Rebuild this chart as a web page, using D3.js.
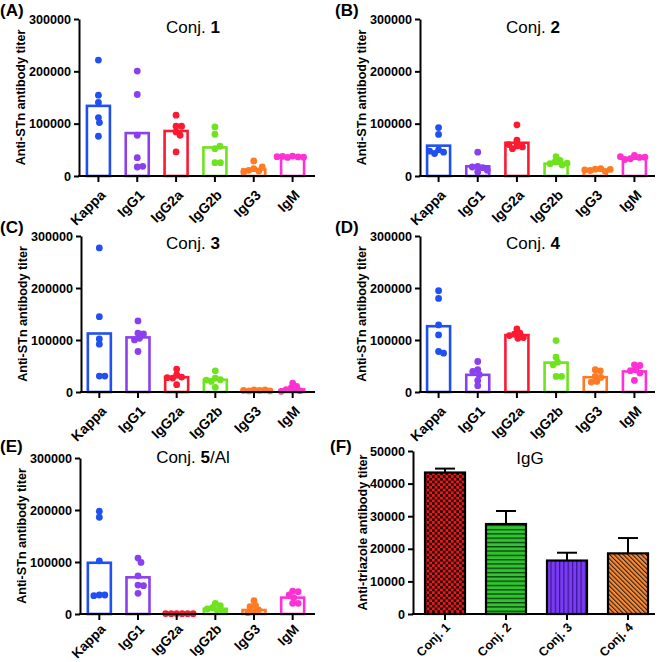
<!DOCTYPE html>
<html><head><meta charset="utf-8">
<script src="https://cdn.jsdelivr.net/npm/d3@7"></script>
<style>body{margin:0;background:#fff} svg{display:block} text{font-family:"Liberation Sans",Arial,Helvetica,sans-serif}</style>
</head><body><svg id="c" width="661" height="662"></svg>
<script>
// ---------- data ----------
const categories = ["Kappa","IgG1","IgG2a","IgG2b","IgG3","IgM"];
const stnTicks = [0,100000,200000,300000];

const conj1Bars = [134000, 82000, 86000, 54500, 12500, 36500];
const conj1Points = [
  [221500,154500,140400,111700,102100,76000],
  [200400,155700,77900,35100,17200,18500],
  [116200,95100,95100,84300,77900,46000],
  [93800,79800,52300,56800,25500,25500],
  [28700,14000,9600,10900,7700,17200],
  [38000,36500,35500,37500,36000,37000]];

const conj2Bars = [58000, 18500, 63500, 23500, 11000, 33000];
const conj2Points = [
  [92500,79500,50000,45500,43000,47500],
  [45500,18500,16000,17200,7700,11000],
  [97700,68300,57400,55500,52300,60000],
  [37000,30000,26800,23600,21000,24500],
  [13000,14000,10500,9000,11500,12500],
  [39500,35500,33000,31500,36000,37000]];

const conj3Bars = [112500, 105000, 28500, 23500, 3000, 5000];
const conj3Points = [
  [277000,144900,102100,91900,30600,30600],
  [136600,113000,111700,103400,100200,77900],
  [44000,33200,28700,26800,27500,14000],
  [40800,26800,23600,20400,8900,23000],
  [4000,3000,2000,3000,4000,2000],
  [17200,10900,7700,4500,2600,1300]];

const conj4Bars = [126500, 33000, 109500, 56500, 28500, 39500];
const conj4Points = [
  [194700,180000,128900,109800,77900,74700],
  [58700,42800,33200,22300,12100,39600],
  [121300,113000,111100,108500,103400,104700],
  [98900,67000,57400,52300,30000,30000],
  [42800,40800,30000,28100,20400,19100],
  [52300,51000,42800,41000,36400,22300]];

const conj5Bars = [98500, 70500, 700, 10000, 7700, 31500];
const conj5Points = [
  [197600,186100,102300,36500,36500,35200],
  [107500,99100,73500,55600,54400,39700],
  [800,700,600,700,800,600],
  [20500,16000,12200,9600,7700,5800],
  [25600,16000,14100,7700,4500,2600],
  [44100,42900,36500,31300,20500,20500]];

const igGCategories = ["Conj. 1","Conj. 2","Conj. 3","Conj. 4"];
const igGMeans = [43400, 27600, 16400, 18600];
const igGErrTops = [44600, 31600, 18800, 23300];
const igGTicks = [0,10000,20000,30000,40000,50000];

// ---------- style ----------
const catColors = ["#2150f0","#8a40ef","#fc1a32","#6ee31e","#ff7a22","#ff30d4"];
const FONT_BOLD = 12.6;

const svg = d3.select("#c");
const defs = svg.append("defs");

function panelLabel(t, x, y) {
  svg.append("text").attr("x", x).attr("y", y).attr("font-size", 17).attr("font-weight", "bold").text(t);
}
function title(parts, x, y) {
  const t = svg.append("text").attr("x", x).attr("y", y).attr("text-anchor", "middle").attr("font-size", 17);
  parts.forEach(p => t.append("tspan").attr("font-weight", p[1] ? "bold" : "normal").text(p[0]));
}
function yTitle(txt, x, y) {
  svg.append("text").attr("transform", `translate(${x},${y}) rotate(-90)`)
    .attr("text-anchor", "middle").attr("dy", "0.35em")
    .attr("font-size", FONT_BOLD).attr("font-weight", "bold").text(txt);
}
function styleAxis(g) {
  g.selectAll("path,line").attr("stroke", "#000").attr("stroke-width", 2);
  g.selectAll("text").attr("font-size", FONT_BOLD).attr("font-weight", "bold")
    .attr("font-family", '"Liberation Sans",Arial,sans-serif').attr("fill", "#000");
}
function xAxis(x, names, axX, axEnd, yBase, lab) {
  svg.append("line").attr("x1", axX - 1).attr("x2", axEnd).attr("y1", yBase).attr("y2", yBase)
    .attr("stroke", "#000").attr("stroke-width", 2);
  names.forEach(n => {
    const cx = x(n) + x.bandwidth() / 2;
    svg.append("line").attr("x1", cx).attr("x2", cx).attr("y1", yBase).attr("y2", yBase + 6)
      .attr("stroke", "#000").attr("stroke-width", 2);
    svg.append("text").attr("transform", `translate(${cx + lab.dx},${yBase + lab.dy}) rotate(-45)`)
      .attr("text-anchor", "end").attr("font-size", lab.size).attr("font-weight", "bold").text(n);
  });
}

function swarm(vals, y, cx, r) {
  const placed = [];
  vals.forEach(v => {
    const py = y(v);
    let off = 0;
    for (let k = 0; k < 200; k++) {
      const o = k === 0 ? 0 : (k % 2 ? 1 : -1) * Math.ceil(k / 2) * 0.5;
      if (placed.every(p => Math.hypot(p.x - (cx + o), p.y - py) >= 1.5 * r)) { off = o; break; }
    }
    placed.push({ x: cx + off, y: py });
  });
  return placed;
}

function stnPanel(cfg) {
  const y = d3.scaleLinear().domain([0, 300000]).range([cfg.yBot, cfg.yTop]);
  const x = d3.scaleBand().domain(categories).range([cfg.bandStart, cfg.bandEnd]);
  const bw = 23;
  categories.forEach((c, i) => {
    const cx = x(c) + x.bandwidth() / 2;
    svg.append("rect").attr("x", cx - bw / 2).attr("y", y(cfg.bars[i]))
      .attr("width", bw).attr("height", y(0) - y(cfg.bars[i]))
      .attr("fill", "#fff").attr("stroke", catColors[i]).attr("stroke-width", 2.6);
  });
  categories.forEach((c, i) => {
    const cx = x(c) + x.bandwidth() / 2;
    const pts = swarm(cfg.points[i], y, cx, 3.4);
    svg.append("g").selectAll("circle").data(pts).join("circle")
      .attr("cx", d => d.x).attr("cy", d => d.y).attr("r", 3.4).attr("fill", catColors[i]);
  });
  xAxis(x, categories, cfg.axX, cfg.axEnd, cfg.yBot, cfg.lab || { dx: 8, dy: 20, size: 14 });
  const g = svg.append("g").attr("transform", `translate(${cfg.axX},0)`)
    .call(d3.axisLeft(y).tickValues(stnTicks).tickSize(5).tickSizeOuter(0).tickPadding(3).tickFormat(d3.format("d")));
  styleAxis(g);
  yTitle("Anti-STn antibody titer", cfg.axX - 58, (cfg.yTop + cfg.yBot) / 2);
  title(cfg.title, cfg.titleX, cfg.titleY);
  panelLabel(cfg.label, cfg.labelX, cfg.labelY);
}

const L = { axX: 79, axEnd: 315, bandStart: 79, bandEnd: 312, titleX: 193, labelX: 0 };
const R = { axX: 420, axEnd: 655, bandStart: 419, bandEnd: 654, titleX: 533, labelX: 335 };

stnPanel({ ...L, yTop: 19, yBot: 176, bars: conj1Bars, points: conj1Points, title: [["Conj. ", 0], ["1", 1]], titleY: 33, label: "(A)", labelY: 16 });
stnPanel({ ...R, yTop: 19, yBot: 176, bars: conj2Bars, points: conj2Points, title: [["Conj. ", 0], ["2", 1]], titleY: 33, label: "(B)", labelY: 16 });
stnPanel({ ...L, axX: 81, bandStart: 80, yTop: 236, yBot: 392, bars: conj3Bars, points: conj3Points, title: [["Conj. ", 0], ["3", 1]], titleY: 249, label: "(C)", labelY: 233 });
stnPanel({ ...R, yTop: 236, yBot: 392, bars: conj4Bars, points: conj4Points, title: [["Conj. ", 0], ["4", 1]], titleY: 249, label: "(D)", labelY: 233 });
stnPanel({ ...L, axX: 80, bandStart: 80, yTop: 458, yBot: 614, bars: conj5Bars, points: conj5Points, title: [["Conj. ", 0], ["5", 1], ["/Al", 0]], titleY: 463, label: "(E)", labelY: 452, lab: { dx: 7, dy: 16, size: 13.5 } });

(function () {
  const axX = 413, yTop = 451, yBot = 614;
  const y = d3.scaleLinear().domain([0, 50000]).range([yBot, yTop]);
  const x = d3.scaleBand().domain(igGCategories).range([414.5, 658.5]);
  const bw = 40;
  const p1 = defs.append("pattern").attr("id", "pChk").attr("patternUnits", "userSpaceOnUse").attr("width", 5.4).attr("height", 5.4);
  p1.append("rect").attr("width", 5.4).attr("height", 5.4).attr("fill", "#ff1010");
  p1.append("rect").attr("width", 2.7).attr("height", 2.7).attr("fill", "#111");
  p1.append("rect").attr("x", 2.7).attr("y", 2.7).attr("width", 2.7).attr("height", 2.7).attr("fill", "#111");
  const p2 = defs.append("pattern").attr("id", "pH").attr("patternUnits", "userSpaceOnUse").attr("width", 6).attr("height", 4.3);
  p2.append("rect").attr("width", 6).attr("height", 4.3).attr("fill", "#2ec52e");
  p2.append("rect").attr("y", 0).attr("width", 6).attr("height", 1.3).attr("fill", "#0f3a0f");
  const p3 = defs.append("pattern").attr("id", "pV").attr("patternUnits", "userSpaceOnUse").attr("width", 4.3).attr("height", 6);
  p3.append("rect").attr("width", 4.3).attr("height", 6).attr("fill", "#7a3cf2");
  p3.append("rect").attr("x", 0).attr("width", 1.2).attr("height", 6).attr("fill", "#3a1490");
  const p4 = defs.append("pattern").attr("id", "pD").attr("patternUnits", "userSpaceOnUse").attr("width", 3.2).attr("height", 6)
    .attr("patternTransform", "rotate(-45)");
  p4.append("rect").attr("width", 3.2).attr("height", 6).attr("fill", "#ff8a30");
  p4.append("rect").attr("width", 1.1).attr("height", 6).attr("fill", "#222");
  const fills = ["url(#pChk)", "url(#pH)", "url(#pV)", "url(#pD)"];

  igGCategories.forEach((c, i) => {
    const cx = x(c) + x.bandwidth() / 2;
    svg.append("line").attr("x1", cx).attr("x2", cx).attr("y1", y(igGMeans[i])).attr("y2", y(igGErrTops[i]))
      .attr("stroke", "#000").attr("stroke-width", 2);
    svg.append("line").attr("x1", cx - 10).attr("x2", cx + 10).attr("y1", y(igGErrTops[i])).attr("y2", y(igGErrTops[i]))
      .attr("stroke", "#000").attr("stroke-width", 2);
    svg.append("rect").attr("x", cx - bw / 2).attr("y", y(igGMeans[i])).attr("width", bw)
      .attr("height", y(0) - y(igGMeans[i])).attr("fill", fills[i]).attr("stroke", "#000").attr("stroke-width", 2.2);
  });
  xAxis(x, igGCategories, axX, 655, yBot, { dx: 6, dy: 14, size: 12.5 });
  const g = svg.append("g").attr("transform", `translate(${axX},0)`)
    .call(d3.axisLeft(y).tickValues(igGTicks).tickSize(5).tickSizeOuter(0).tickPadding(3).tickFormat(d3.format("d")));
  styleAxis(g);
  yTitle("Anti-triazole antibody titer", 363, (yTop + yBot) / 2);
  title([["IgG", 0]], 530, 464);
  panelLabel("(F)", 330, 452);
})();
</script></body></html>
